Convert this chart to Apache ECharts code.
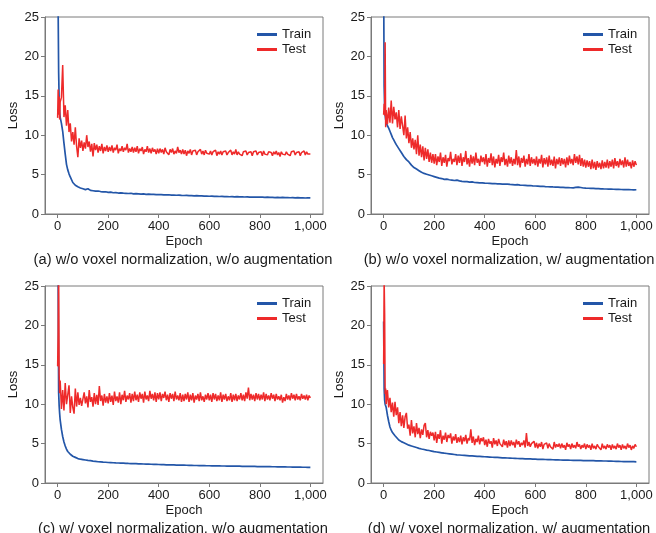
<!DOCTYPE html>
<html>
<head>
<meta charset="utf-8">
<script src="https://cdn.jsdelivr.net/npm/echarts@6/dist/echarts.min.js"></script>
<style>
html,body{margin:0;padding:0;background:#fff;}
#c{width:656px;height:533px;}
</style>
</head>
<body>
<div id="c"></div>
<script>
// ---- tick labels / captions ----
const xTickValues = [0, 200, 400, 600, 800, 1000];
const xTickLabels = ['0', '200', '400', '600', '800', '1,000'];
const captions = [
  '(a) w/o voxel normalization, w/o augmentation',
  '(b) w/o voxel normalization, w/ augmentation',
  '(c) w/ voxel normalization, w/o augmentation',
  '(d) w/ voxel normalization, w/ augmentation'
];
const seriesNames = ['Train', 'Test'];

// ---- sample epochs ----
const trainEpochs = [0, 2, 4, 6, 8, 10, 15, 20, 25, 30, 35, 40, 45, 50];
for (let e = 60; e <= 1000; e += 10) trainEpochs.push(e);
const testEpochs = [0, 2, 4, 6, 8];
for (let e = 10; e <= 1000; e += 5) testEpochs.push(e);

// ---- (a) ----
const trainA = [30, 26, 18, 14.5, 13, 12.3, 11.5, 10.5, 9.0, 7.6, 6.3, 5.6, 5.1, 4.7,
  4.0, 3.65, 3.45, 3.3, 3.2, 3.1, 3.2, 3.0, 2.95, 2.9,
  2.92, 2.85, 2.8, 2.82, 2.75, 2.78, 2.7, 2.72, 2.66, 2.68,
  2.64, 2.62, 2.6, 2.63, 2.56, 2.58, 2.55, 2.52, 2.55, 2.5,
  2.52, 2.48, 2.5, 2.46, 2.45, 2.47, 2.43, 2.42, 2.44, 2.4,
  2.41, 2.38, 2.4, 2.36, 2.35, 2.37, 2.33, 2.34, 2.31, 2.32,
  2.29, 2.3, 2.27, 2.28, 2.25, 2.27, 2.24, 2.25, 2.22, 2.24,
  2.21, 2.22, 2.19, 2.21, 2.18, 2.2, 2.17, 2.18, 2.16, 2.17,
  2.14, 2.16, 2.13, 2.15, 2.13, 2.14, 2.11, 2.13, 2.1, 2.12,
  2.09, 2.11, 2.08, 2.1, 2.07, 2.09, 2.06, 2.08, 2.05, 2.07,
  2.04, 2.06, 2.03, 2.05, 2.04];
const testA = [12.2, 15.8, 12.6, 14.9, 12.0, 14.2, 14.8, 18.9, 12.3, 13.8, 11.2, 13.2, 10.4, 11.5, 9.2, 10.4, 8.8, 11.0, 8.6, 7.2, 9.6, 8.4, 9.3,
  8.0, 9.1, 8.3, 10.0, 8.5, 9.2, 7.9, 8.9, 7.3, 9.0, 8.1, 8.8, 7.8, 8.6, 8.0, 8.9, 7.7, 8.5, 8.0, 8.7,
  7.9, 8.5, 8.0, 8.7, 7.8, 8.4, 8.1, 8.8, 7.7, 8.3, 8.0, 8.6, 7.9, 8.4, 8.1, 8.9, 7.8, 8.3, 7.9, 8.5,
  7.8, 8.4, 7.9, 8.6, 7.7, 8.3, 8.0, 8.5, 7.6, 8.2, 7.9, 8.6, 7.8, 8.3, 7.7, 8.4, 7.9, 8.2, 7.6, 8.3,
  7.7, 8.3, 7.8, 8.2, 7.6, 8.4, 7.9, 8.1, 7.5, 8.2, 7.8, 8.3, 7.6, 8.0, 7.7, 8.5, 7.8, 8.1, 7.6, 8.2,
  7.6, 8.1, 7.4, 8.0, 7.7, 8.2, 7.5, 8.0, 7.8, 8.1, 7.5, 7.9, 7.7, 8.2, 7.6, 8.0, 7.5, 8.1, 7.7, 7.9,
  7.6, 8.0, 7.5, 7.9, 7.7, 8.1, 7.4, 7.9, 7.6, 8.0, 7.5, 7.9, 7.7, 8.0, 7.5, 7.8, 7.6, 8.1, 7.5, 7.9,
  7.6, 8.2, 7.5, 7.9, 7.6, 7.8, 7.4, 7.9, 7.7, 8.0, 7.5, 7.8, 7.6, 7.9, 7.4, 7.9, 7.7, 8.0, 7.5, 7.8,
  7.6, 7.9, 7.4, 8.0, 7.6, 7.8, 7.5, 7.9, 7.7, 7.8, 7.4, 7.9, 7.6, 8.0, 7.5, 7.8, 7.3, 7.9, 7.6, 7.8,
  7.5, 7.9, 7.6, 7.8, 7.4, 7.9, 7.7, 8.0, 7.5, 7.8, 7.6, 7.9, 7.4, 7.8, 7.7, 8.0, 7.5, 7.9, 7.6, 7.8, 7.6];

// ---- (b) ----
const trainB = [30, 16.2, 13.5, 12.5, 12.0, 11.6, 11.2, 10.9, 10.5, 10.1, 9.7, 9.4, 9.1, 8.8,
  8.3, 7.8, 7.3, 6.9, 6.6, 6.2, 5.9, 5.7, 5.5, 5.3,
  5.15, 5.05, 4.95, 4.85, 4.75, 4.65, 4.55, 4.5, 4.4, 4.42,
  4.35, 4.3, 4.25, 4.3, 4.2, 4.15, 4.12, 4.1, 4.05, 4.07,
  4.0, 3.98, 3.95, 3.96, 3.92, 3.9, 3.88, 3.86, 3.87, 3.83,
  3.82, 3.8, 3.78, 3.79, 3.75, 3.73, 3.7, 3.72, 3.67, 3.65,
  3.63, 3.6, 3.62, 3.58, 3.55, 3.53, 3.5, 3.52, 3.48, 3.46,
  3.45, 3.43, 3.42, 3.4, 3.38, 3.37, 3.35, 3.36, 3.33, 3.32,
  3.38, 3.42, 3.36, 3.3, 3.28, 3.27, 3.25, 3.24, 3.22, 3.21,
  3.2, 3.18, 3.17, 3.16, 3.15, 3.14, 3.13, 3.12, 3.11, 3.1,
  3.09, 3.1, 3.08, 3.07, 3.08];
const testB = [12.6, 14.0, 12.5, 21.8, 11.0, 13.2, 11.4, 13.5, 11.6, 14.4, 11.5, 13.6, 12.0, 12.9, 11.0, 13.2, 10.8, 12.4, 11.2, 10.0, 12.5, 9.6, 11.0,
  9.0, 10.4, 8.4, 9.6, 8.2, 9.4, 7.6, 10.0, 7.4, 8.8, 7.2, 8.6, 6.8, 8.4, 7.0, 8.2, 6.6, 7.8, 6.5, 7.6,
  6.4, 7.6, 6.2, 7.3, 6.6, 7.8, 6.1, 7.2, 6.5, 7.5, 6.0, 7.1, 6.7, 7.9, 6.3, 7.0, 6.6, 7.6, 6.2, 7.4,
  6.5, 7.7, 6.1, 7.2, 6.6, 8.0, 6.3, 7.1, 6.0, 7.5, 6.4, 7.3, 6.2, 7.8, 6.5, 7.0, 6.1, 7.4, 6.6, 7.2,
  6.3, 7.6, 6.0, 7.1, 6.5, 7.7, 6.2, 7.3, 5.9, 7.0, 6.4, 7.5, 6.1, 7.2, 6.6, 7.8, 6.2, 7.0, 6.0, 7.4,
  6.4, 7.2, 6.1, 7.0, 6.3, 8.1, 6.2, 7.3, 5.9, 7.1, 6.5, 7.4, 6.0, 7.0, 6.3, 7.6, 6.1, 7.2, 6.4, 7.0,
  6.2, 7.3, 6.0, 7.0, 6.4, 7.5, 5.9, 7.1, 6.3, 7.2, 6.0, 7.4, 6.2, 6.9, 6.1, 7.3, 5.8, 7.0, 6.3, 7.2,
  6.1, 7.1, 6.3, 7.0, 5.9, 7.2, 6.2, 7.4, 6.4, 7.0, 6.2, 7.6, 6.5, 7.3, 6.3, 7.5, 6.1, 7.1, 6.0, 6.9,
  5.9, 6.8, 6.0, 6.7, 5.7, 6.9, 5.8, 6.6, 5.6, 6.7, 5.9, 6.5, 5.7, 6.8, 5.8, 6.6, 5.9, 6.9, 5.8, 6.7,
  6.0, 6.9, 5.8, 7.1, 6.1, 6.7, 5.9, 7.0, 6.2, 6.8, 5.9, 7.2, 6.0, 6.9, 6.1, 6.6, 5.8, 6.8, 6.0, 6.7, 6.2];

// ---- (c) ----
const trainC = [30, 25.5, 11.5, 9.8, 8.8, 8.0, 6.8, 5.9, 5.2, 4.7, 4.3, 4.0, 3.8, 3.65,
  3.4, 3.25, 3.1, 3.02, 2.97, 2.92, 2.87, 2.83, 2.78, 2.74,
  2.7, 2.68, 2.65, 2.63, 2.6, 2.59, 2.57, 2.55, 2.54, 2.52,
  2.51, 2.5, 2.48, 2.47, 2.45, 2.45, 2.43, 2.42, 2.41, 2.4,
  2.39, 2.38, 2.37, 2.36, 2.35, 2.34, 2.33, 2.31, 2.3, 2.3,
  2.29, 2.28, 2.27, 2.26, 2.26, 2.25, 2.24, 2.23, 2.22, 2.22,
  2.21, 2.2, 2.2, 2.19, 2.19, 2.18, 2.18, 2.17, 2.17, 2.16,
  2.16, 2.15, 2.15, 2.14, 2.14, 2.13, 2.13, 2.12, 2.12, 2.11,
  2.11, 2.1, 2.1, 2.09, 2.09, 2.08, 2.08, 2.07, 2.07, 2.06,
  2.06, 2.05, 2.05, 2.04, 2.04, 2.03, 2.03, 2.02, 2.02, 2.01,
  2.01, 2.0, 2.0, 1.99, 1.99];
const testC = [14.8, 19.0, 27.0, 13.8, 11.4, 13.0, 9.4, 11.8, 9.2, 12.7, 10.0, 11.2, 12.4, 8.9, 11.0, 9.6, 8.8, 12.0, 9.7, 11.5, 9.9, 10.8, 9.8,
  9.8, 11.5, 10.1, 11.0, 9.6, 11.8, 10.3, 10.9, 9.7, 11.4, 10.0, 11.2, 9.9, 12.3, 10.4, 11.1, 9.8, 11.3, 10.2, 11.0,
  10.1, 11.4, 10.3, 11.1, 9.9, 11.6, 10.4, 11.0, 10.2, 11.5, 10.0, 11.2, 10.5, 11.7, 10.3, 11.1, 10.6, 11.4, 10.2, 11.3,
  10.4, 11.6, 10.5, 11.2, 10.3, 11.5, 10.7, 11.3, 10.2, 11.6, 10.6, 11.1, 10.4, 11.7, 10.7, 11.3, 10.5, 11.5, 10.3, 11.4,
  10.6, 11.5, 10.4, 11.3, 10.8, 11.6, 10.5, 11.2, 10.3, 11.4, 10.7, 11.3, 10.4, 11.6, 10.6, 11.1, 10.5, 11.4, 10.3, 11.2,
  10.4, 11.3, 10.6, 11.5, 10.3, 11.2, 10.5, 11.4, 10.2, 11.1, 10.6, 11.3, 10.4, 11.5, 10.5, 11.0, 10.3, 11.2, 10.6, 11.4,
  10.5, 11.2, 10.3, 11.4, 10.6, 11.3, 10.4, 11.1, 10.5, 11.5, 10.3, 11.2, 10.6, 11.3, 10.4, 11.0, 10.5, 11.4, 10.3, 11.2,
  10.5, 11.3, 10.4, 11.1, 10.6, 11.4, 10.5, 11.2, 10.4, 11.5, 10.7, 12.1, 10.5, 11.3, 10.6, 11.2, 10.4, 11.4, 10.6, 11.3,
  10.5, 11.2, 10.6, 11.5, 10.4, 11.3, 10.6, 11.1, 10.5, 11.4, 10.7, 11.2, 10.4, 11.3, 10.6, 11.0, 10.5, 11.2, 10.2, 10.9,
  10.4, 11.3, 10.6, 11.1, 10.5, 11.4, 10.7, 11.2, 10.5, 11.3, 10.6, 11.0, 10.5, 11.3, 10.7, 11.1, 10.6, 11.2, 10.5, 11.1, 10.8];

// ---- (d) ----
const trainD = [20.5, 12, 10.5, 10.0, 9.8, 9.6, 8.6, 7.8, 7.1, 6.7, 6.4, 6.2, 6.0, 5.8,
  5.45, 5.25, 5.1, 4.95, 4.8, 4.7, 4.6, 4.5, 4.4, 4.32,
  4.25, 4.18, 4.12, 4.05, 3.98, 3.93, 3.88, 3.83, 3.78, 3.74,
  3.7, 3.66, 3.62, 3.58, 3.55, 3.52, 3.5, 3.48, 3.45, 3.43,
  3.41, 3.39, 3.37, 3.35, 3.33, 3.31, 3.29, 3.27, 3.25, 3.24,
  3.22, 3.2, 3.19, 3.17, 3.16, 3.14, 3.13, 3.11, 3.1, 3.09,
  3.07, 3.06, 3.05, 3.03, 3.02, 3.01, 3.0, 2.99, 2.98, 2.97,
  2.96, 2.95, 2.94, 2.93, 2.92, 2.91, 2.9, 2.9, 2.89, 2.88,
  2.87, 2.87, 2.86, 2.85, 2.85, 2.84, 2.83, 2.83, 2.82, 2.81,
  2.8, 2.79, 2.79, 2.78, 2.77, 2.76, 2.75, 2.74, 2.73, 2.72,
  2.72, 2.71, 2.7, 2.7, 2.69];
const testD = [15.1, 26.0, 21.4, 11.3, 12.0, 10.0, 11.8, 9.6, 10.8, 9.0, 10.2, 8.4, 10.3, 8.6, 9.6, 7.6, 9.0, 7.2, 8.6, 7.0, 8.4, 8.9, 6.9,
  7.4, 6.0, 8.0, 6.3, 7.2, 5.8, 7.6, 6.2, 7.0, 5.7, 6.8, 6.1, 7.3, 7.6, 5.8, 6.7, 5.6, 6.5, 6.0, 6.4,
  5.4, 6.5, 5.1, 6.2, 5.6, 6.7, 5.0, 6.0, 5.5, 6.4, 5.2, 6.1, 5.7, 6.3, 5.0, 5.9, 5.4, 6.2, 5.1, 5.8,
  5.2, 6.0, 4.9, 5.8, 5.3, 6.1, 5.0, 5.7, 5.4, 6.8, 5.1, 5.9, 4.8, 5.6, 5.2, 6.0, 4.9, 5.7, 5.3, 5.8,
  4.8, 5.5, 4.6, 5.6, 5.0, 5.3, 4.5, 5.7, 4.9, 5.4, 4.7, 5.6, 5.0, 5.2, 4.6, 5.5, 4.8, 5.3, 4.5, 5.4,
  4.7, 5.4, 4.8, 5.2, 4.5, 5.5, 4.9, 5.3, 4.6, 5.1, 4.8, 5.4, 4.5, 6.35, 4.7, 5.2, 4.6, 5.0, 4.8, 5.3,
  4.5, 5.1, 4.4, 5.0, 4.6, 5.2, 4.3, 4.9, 4.7, 5.1, 4.4, 5.0, 4.6, 4.8, 4.3, 5.2, 4.5, 4.9, 4.6, 5.0,
  4.4, 5.0, 4.5, 4.8, 4.2, 5.1, 4.6, 4.9, 4.3, 5.0, 4.5, 4.8, 4.4, 5.2, 4.6, 4.9, 4.3, 4.8, 4.5, 5.0,
  4.3, 4.9, 4.5, 4.8, 4.2, 5.0, 4.4, 4.7, 4.3, 4.9, 4.6, 4.8, 4.2, 5.0, 4.4, 4.7, 4.3, 4.9, 4.5, 4.8,
  4.2, 4.9, 4.4, 4.7, 4.3, 5.0, 4.5, 4.8, 4.2, 4.9, 4.4, 4.7, 4.3, 5.0, 4.5, 4.8, 4.2, 4.7, 4.4, 4.9, 4.6];

const trainSets = [trainA, trainB, trainC, trainD];
const testSets = [testA, testB, testC, testD];

// ---- layout ----
const FONT = '"Liberation Sans", Arial, Helvetica, sans-serif';
const TXT = '#1a1a1a';
const AX = '#7a7a7a';
const TRAIN_COLOR = '#2356a8';
const TEST_COLOR = '#ee2a2a';
const gridPos = [
  { left: 45, top: 17 }, { left: 371, top: 17 },
  { left: 45, top: 286 }, { left: 371, top: 286 }
];
const GW = 278, GH = 197;

function zip(xs, ys) {
  const n = Math.min(xs.length, ys.length);
  const out = [];
  for (let i = 0; i < n; i++) out.push([xs[i], ys[i]]);
  return out;
}

const option = {
  animation: false,
  backgroundColor: '#ffffff',
  textStyle: { fontFamily: FONT },
  grid: gridPos.map(p => ({
    left: p.left, top: p.top, width: GW, height: GH,
    show: true, borderColor: AX, borderWidth: 1, backgroundColor: 'transparent'
  })),
  xAxis: gridPos.map((p, i) => ({
    type: 'value', gridIndex: i, min: -50, max: 1050,
    name: 'Epoch', nameLocation: 'middle', nameGap: 21,
    nameTextStyle: { fontSize: 13, color: TXT, fontFamily: FONT },
    axisLine: { show: true, onZero: false, lineStyle: { color: AX, width: 1 } },
    axisTick: { show: true, inside: false, length: 4, customValues: xTickValues, lineStyle: { color: AX } },
    axisLabel: {
      show: true, customValues: xTickValues, margin: 6, fontSize: 13, color: TXT, fontFamily: FONT,
      formatter: v => xTickLabels[xTickValues.indexOf(v)]
    },
    splitLine: { show: false }
  })),
  yAxis: gridPos.map((p, i) => ({
    type: 'value', gridIndex: i, min: 0, max: 25, interval: 5,
    name: 'Loss', nameLocation: 'middle', nameGap: 25,
    nameTextStyle: { fontSize: 13, color: TXT, fontFamily: FONT },
    axisLine: { show: true, onZero: false, lineStyle: { color: AX, width: 1 } },
    axisTick: { show: true, inside: false, length: 4, lineStyle: { color: AX } },
    axisLabel: { margin: 6, fontSize: 13, color: TXT, fontFamily: FONT },
    splitLine: { show: false }
  })),
  legend: gridPos.map(p => ({
    orient: 'vertical', left: p.left + 212, top: p.top + 11, padding: 0,
    icon: 'rect', itemWidth: 20, itemHeight: 3, itemGap: 2,
    selectedMode: false,
    textStyle: { fontSize: 13, color: TXT, fontFamily: FONT, lineHeight: 13 },
    data: seriesNames
  })),
  graphic: gridPos.map((p, i) => ({
    type: 'text',
    x: p.left + GW / 2 - 1, y: p.top + 243,
    style: {
      text: captions[i], fontSize: 14.7, fontFamily: FONT, fill: TXT,
      align: 'center', verticalAlign: 'middle'
    }
  })),
  series: []
};

for (let i = 0; i < 4; i++) {
  option.series.push({
    name: seriesNames[0], type: 'line', xAxisIndex: i, yAxisIndex: i,
    data: zip(trainEpochs, trainSets[i]), showSymbol: false, symbol: 'none',
    clip: true, color: TRAIN_COLOR,
    lineStyle: { color: TRAIN_COLOR, width: 1.7 }, emphasis: { disabled: true }, z: 2
  });
}
for (let i = 0; i < 4; i++) {
  option.series.push({
    name: seriesNames[1], type: 'line', xAxisIndex: i, yAxisIndex: i,
    data: zip(testEpochs, testSets[i]), showSymbol: false, symbol: 'none',
    clip: true, color: TEST_COLOR,
    lineStyle: { color: TEST_COLOR, width: 1.5 }, emphasis: { disabled: true }, z: 3
  });
}

const chart = echarts.init(document.getElementById('c'), null, { renderer: 'canvas' });
chart.setOption(option);
</script>
</body>
</html>
